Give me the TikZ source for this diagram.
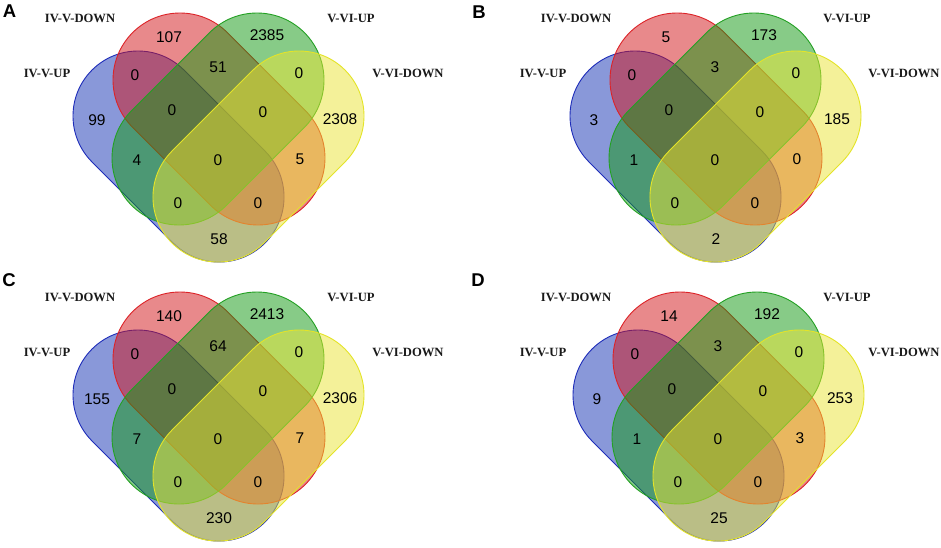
\documentclass[tikz,border=0pt]{standalone}
\usepackage{fontspec}
\setmainfont{Liberation Serif}
\newfontfamily\numfont{Liberation Sans}
\definecolor{bluefill}{RGB}{20,50,180}
\definecolor{blueline}{RGB}{30,45,185}
\definecolor{redfill}{RGB}{210,20,25}
\definecolor{redline}{RGB}{220,35,40}
\definecolor{greenfill}{RGB}{17,153,17}
\definecolor{greenline}{RGB}{35,160,35}
\definecolor{yellowfill}{RGB}{235,229,53}
\definecolor{yellowline}{RGB}{228,228,40}
\tikzset{
  bluef/.style={fill=bluefill, draw=blueline, fill opacity=0.5, line width=0.9pt},
  redf/.style={fill=redfill, draw=redline, fill opacity=0.5, line width=0.9pt},
  greenf/.style={fill=greenfill, draw=greenline, fill opacity=0.5, line width=0.9pt},
  yellowf/.style={fill=yellowfill, draw=yellowline, fill opacity=0.5, line width=0.9pt},
  num/.style={font=\numfont\fontsize{15.5}{17}\selectfont, inner sep=0pt, text=black},
  setlabel/.style={font=\fontsize{12.6}{14}\selectfont\bfseries, inner sep=0pt, text=black!90},
  panelletter/.style={font=\numfont\fontsize{18.5}{20}\selectfont\bfseries, inner sep=0pt}
}
% #1 style, #2,#3 first cap centre, #4 length, #5 direction angle, #6 radius
\newcommand\vset[6]{%
  \filldraw[#1] (#2,#3) ++({#5-90}:#6) -- ++(#5:#4)
    arc[start angle={#5-90}, end angle={#5+90}, radius=#6]
    -- ++({#5+180}:#4)
    arc[start angle={#5+90}, end angle={#5+270}, radius=#6] -- cycle;}
% #1 prefix, #2 #3 shape shift, #4 #5 label shift, #6 numbers
\newcommand\vennpanel[6]{%
  \begin{scope}[shift={(#2,#3)}]
    \vset{bluef}{138}{116}{114.6}{45}{65}
    \vset{redf}{180}{80}{110.3}{45}{67}
    \vset{greenf}{257}{80}{110.3}{135}{67}
    \vset{yellowf}{299}{116}{114.6}{135}{65}
    \coordinate (#1-c1) at (169,37);
    \coordinate (#1-c2) at (267,35);
    \coordinate (#1-c3) at (135,75);
    \coordinate (#1-c4) at (218,67);
    \coordinate (#1-c5) at (299,73);
    \coordinate (#1-c6) at (97,120);
    \coordinate (#1-c7) at (172,110);
    \coordinate (#1-c8) at (263,112);
    \coordinate (#1-c9) at (340,119);
    \coordinate (#1-c10) at (137,160);
    \coordinate (#1-c11) at (218,160);
    \coordinate (#1-c12) at (300,159);
    \coordinate (#1-c13) at (178,203);
    \coordinate (#1-c14) at (258,203);
    \coordinate (#1-c15) at (219,239);
    \foreach [count=\i] \t in {#6} \node[num] (#1-n\i) at (#1-c\i) {\t};
  \end{scope}
  \begin{scope}[shift={(#4,#5)}]
    \node[setlabel] (#1-l1) at (80,18.5) {IV-V-DOWN};
    \node[setlabel] (#1-l2) at (351,18.5) {V-VI-UP};
    \node[setlabel] (#1-l3) at (47,73) {IV-V-UP};
    \node[setlabel] (#1-l4) at (408,73) {V-VI-DOWN};
  \end{scope}}
\begin{document}
\begin{tikzpicture}[x=1pt, y=-1pt]
  \fill[white] (0,0) rectangle (941,547);
  \useasboundingbox (0,0) rectangle (941,547);
  \vennpanel{A}{0}{0}{0}{0}{107,2385,0,51,0,99,0,0,2308,4,0,5,0,0,58}
  \vennpanel{B}{497}{0}{496}{0}{5,173,0,3,0,3,0,0,185,1,0,0,0,0,2}
  \vennpanel{C}{0}{279}{0}{279}{140,2413,0,64,0,155,0,0,2306,7,0,7,0,0,230}
  \vennpanel{D}{500}{279}{496}{279}{14,192,0,3,0,9,0,0,253,1,0,3,0,0,25}
  \node[panelletter] (LA) at (9.5,11.5) {A};
  \node[panelletter] (LB) at (479,12) {B};
  \node[panelletter] (LC) at (9,280) {C};
  \node[panelletter] (LD) at (478,280) {D};
\end{tikzpicture}
\end{document}
